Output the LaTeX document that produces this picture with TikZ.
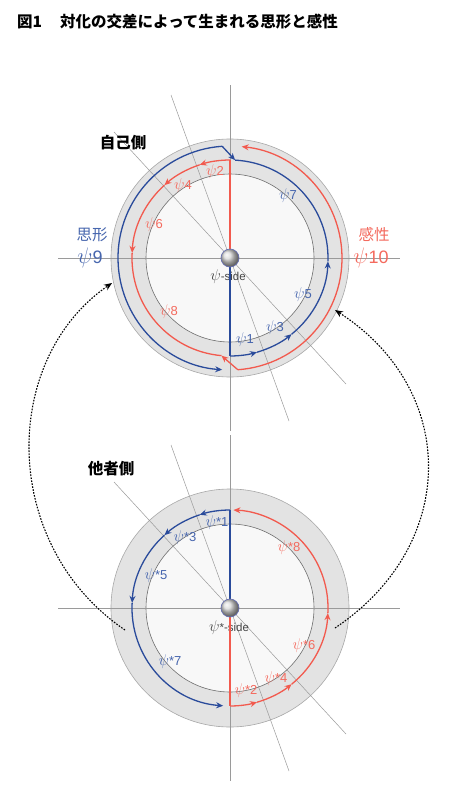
\documentclass[tikz,border=0pt]{standalone}
\usepackage{fontspec}
\setmainfont{Liberation Sans}
\newfontfamily\jp{Noto Sans CJK JP}
\usetikzlibrary{calc,arrows.meta}
\newcommand\psy{\scalebox{1.3}{$\psi$}}
\definecolor{bluel}{HTML}{2A4B9B}
\definecolor{bluet}{HTML}{4766AE}
\definecolor{redl}{HTML}{F25A4E}
\definecolor{redt}{HTML}{F46A5E}
\definecolor{ringfill}{HTML}{E3E3E3}
\definecolor{ringedge}{HTML}{A8A8A8}
\definecolor{innerfill}{HTML}{F8F8F8}
\definecolor{inneredge}{HTML}{6E6E6E}
\definecolor{guidec}{HTML}{9A9A9A}
\definecolor{sphereedge}{HTML}{6870B0}
\definecolor{sidec}{HTML}{444444}
\tikzset{
  guide/.style={draw=guidec, line width=0.5pt},
  bpath/.style={draw=bluel, line width=1.3pt},
  rpath/.style={draw=redl, line width=1.3pt},
  arrowtip/.style={-{Stealth[length=7pt,width=6pt]}},
  dotarrow/.style={draw=black, line width=1.1pt, dash pattern=on 1.6pt off 1.4pt, -{Stealth[length=8pt,width=6.5pt]}},
  lab/.style={inner sep=0pt, font=\fontsize{13}{15}\selectfont},
  blab/.style={lab, text=bluet},
  rlab/.style={lab, text=redt},
  sidelab/.style={inner sep=0pt, text=sidec, font=\fontsize{11.5}{13}\selectfont},
  jpbold/.style={inner sep=0pt, font=\jp\bfseries\fontsize{15.5}{18}\selectfont},
  jpreg/.style={inner sep=0pt, font=\jp\fontsize{15.5}{18}\selectfont},
  biglab/.style={inner sep=0pt, font=\fontsize{18}{20}\selectfont},
}
\begin{document}
\begin{tikzpicture}[x=1pt,y=1pt]
\useasboundingbox (0,0) rectangle (460,-795);
\fill[white] (0,0) rectangle (460,-795);
\coordinate (T) at (230,-258);
\coordinate (B) at (230,-608);

% rings
\foreach \c in {T,B} {
  \fill[ringfill] (\c) circle (119);
  \draw[ringedge, line width=0.6pt] (\c) circle (119);
  \filldraw[fill=innerfill, draw=inneredge, line width=0.6pt] (\c) circle (84);
}

% guide lines, top
\coordinate (Tv1) at (230,-85);  \coordinate (Tv2) at (230,-431);
\coordinate (Th1) at (58,-258);  \coordinate (Th2) at (400,-258);
\coordinate (Ts1) at (171,-95);  \coordinate (Ts2) at (289,-421);
\coordinate (Td1) at (114,-132); \coordinate (Td2) at (346,-384);
\draw[guide] (Tv1) -- (Tv2);
\draw[guide] (Th1) -- (Th2);
\draw[guide] (Ts1) -- (Ts2);
\draw[guide] (Td1) -- (Td2);
% guide lines, bottom
\coordinate (Bv1) at (230,-435);  \coordinate (Bv2) at (230,-781);
\coordinate (Bh1) at (58,-608);   \coordinate (Bh2) at (400,-608);
\coordinate (Bs1) at (171,-445);  \coordinate (Bs2) at (289,-771);
\coordinate (Bd1) at (114,-482);  \coordinate (Bd2) at (346,-734);
\draw[guide] (Bv1) -- (Bv2);
\draw[guide] (Bh1) -- (Bh2);
\draw[guide] (Bs1) -- (Bs2);
\draw[guide] (Bd1) -- (Bd2);

% side labels
\node[sidelab] (tside) at (228,-277) {\psy-side};
\node[sidelab] (bside) at (229,-628) {\psy*-side};

% ---- top circle paths ----
% red
\draw[rpath] (T) -- ($(T)+(90:98)$);
\foreach \a/\b in {90/108,108/132,132/177}
  \draw[rpath,arrowtip] ($(T)+(\a:98)$) arc[start angle=\a,end angle=\b,radius=98];
\draw[rpath] ($(T)+(177:98)$) arc[start angle=177,end angle=265,radius=98];
\draw[rpath,arrowtip] ($(T)+(274:112)$) -- ($(T)+(265:98)$);
\draw[rpath,arrowtip] ($(T)+(274:112)$) arc[start angle=274,end angle=444,radius=112];
% blue
\draw[bpath] (T) -- ($(T)+(270:98)$);
\foreach \a/\b in {270/286,286/309,309/358}
  \draw[bpath,arrowtip] ($(T)+(\a:98)$) arc[start angle=\a,end angle=\b,radius=98];
\draw[bpath] ($(T)+(358:98)$) arc[start angle=358,end angle=447,radius=98];
\draw[bpath,arrowtip] ($(T)+(94:112)$) -- ($(T)+(87:98)$);
\draw[bpath,arrowtip] ($(T)+(94:112)$) arc[start angle=94,end angle=266,radius=112];

% ---- bottom circle paths ----
\draw[bpath] (B) -- ($(B)+(90:98)$);
\foreach \a/\b in {90/108,108/132,132/177,177/266}
  \draw[bpath,arrowtip] ($(B)+(\a:98)$) arc[start angle=\a,end angle=\b,radius=98];
\draw[rpath] (B) -- ($(B)+(270:98)$);
\foreach \a/\b in {270/286,286/309,309/357,357/448}
  \draw[rpath,arrowtip] ($(B)+(\a:98)$) arc[start angle=\a,end angle=\b,radius=98];

% spheres
\foreach \c in {T,B} {
  \shade[ball color=gray!30] (\c) circle (9);
  \draw[sphereedge, line width=0.7pt] (\c) circle (9);
}

% dotted connectors
\coordinate (L1) at (125,-630); \coordinate (L2) at (112,-283);
\coordinate (R1) at (335,-628); \coordinate (R2) at (335,-310);
\draw[dotarrow] (L1) .. controls (0,-545) and (0,-360) .. (L2);
\draw[dotarrow] (R1) .. controls (459,-545) and (459,-390) .. (R2);

% title
\node[jpbold, anchor=west] (t1) at (17,-22) {図1};
\node[jpbold, anchor=west] (t2) at (60,-22) {対化の交差によって生まれる思形と感性};

% big labels
\node[jpbold] (self) at (123,-143) {自己側};
\node[jpbold] (other) at (111,-469) {他者側};
\node[jpreg, text=bluet] (shikei) at (92,-235) {思形};
\node[biglab, text=bluet] (p9) at (90,-258) {\psy9};
\node[jpreg, text=redt] (kansei) at (374,-235) {感性};
\node[biglab, text=redt] (p10) at (371,-258) {\psy10};

% top small labels
\node[rlab] (p2) at (215,-172) {\psy2};
\node[rlab] (p4) at (183,-186) {\psy4};
\node[rlab] (p6) at (154,-225) {\psy6};
\node[rlab] (p8) at (169,-312) {\psy8};
\node[blab] (p7) at (288,-196) {\psy7};
\node[blab] (p5) at (303,-295) {\psy5};
\node[blab] (p3) at (275,-328) {\psy3};
\node[blab] (p1) at (245,-340) {\psy1};

% bottom small labels
\node[blab] (q1) at (217,-523) {\psy*1};
\node[blab] (q3) at (185,-538) {\psy*3};
\node[blab] (q5) at (156,-576) {\psy*5};
\node[blab] (q7) at (170,-662) {\psy*7};
\node[rlab] (q8) at (289,-548) {\psy*8};
\node[rlab] (q6) at (304,-646) {\psy*6};
\node[rlab] (q4) at (276,-679) {\psy*4};
\node[rlab] (q2) at (246,-691) {\psy*2};
\end{tikzpicture}
\end{document}
